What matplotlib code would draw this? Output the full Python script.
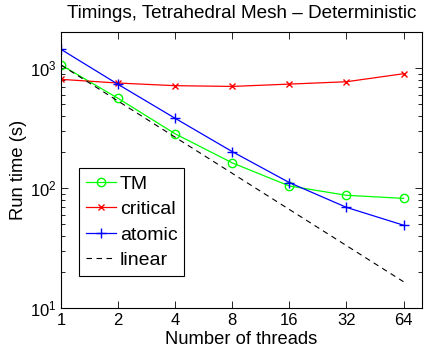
import matplotlib
matplotlib.use("Agg")
import matplotlib.pyplot as plt
import numpy as np
from matplotlib.ticker import FixedLocator, FixedFormatter, LogLocator, NullFormatter

plt.rcParams["font.family"] = ["Liberation Sans", "DejaVu Sans"]

threads = [1, 2, 4, 8, 16, 32, 64]
tm = [1060, 559, 283, 162, 104, 87, 82]
critical = [805, 750, 713, 703, 735, 769, 897]
atomic = [1431, 731, 381, 201, 111, 69, 49]
linear = [tm[0] / t for t in threads]
tick_labels = ["1", "2", "4", "8", "16", "32", "64"]

fig = plt.figure(figsize=(4.24, 3.51), dpi=100)
ax = fig.add_axes([0.144, 0.1225, 0.851, 0.7865])

ax.plot(threads, tm, color=(0, 1, 0), marker="o", mfc="none", ms=6, lw=0.9, label="TM")
ax.plot(threads, critical, color=(1, 0, 0), marker="x", ms=5, lw=0.9, label="critical")
ax.plot(threads, atomic, color=(0, 0, 1), marker="+", ms=7, lw=0.9, label="atomic")
ax.plot(threads, linear, color="k", ls=(0, (5, 4)), lw=0.8, label="linear")

ax.set_xscale("log", base=2)
ax.set_yscale("log")
ax.set_xlim(1, 80)
ax.set_ylim(10, 2000)
ax.xaxis.set_major_locator(FixedLocator(threads))
ax.xaxis.set_major_formatter(FixedFormatter(tick_labels))
ax.xaxis.set_minor_locator(FixedLocator([]))
ax.yaxis.set_major_locator(FixedLocator([10, 100, 1000]))
ax.yaxis.set_minor_locator(LogLocator(base=10, subs=np.arange(2, 10)))
ax.yaxis.set_minor_formatter(NullFormatter())

ax.tick_params(which="both", direction="in", top=True, right=True, labelsize=12)
ax.tick_params(which="major", length=5, width=0.6)
ax.tick_params(which="minor", length=3, width=0.6)
for s in ax.spines.values():
    s.set_linewidth(0.8)

ax.set_xlabel("Number of threads", fontsize=13.2, labelpad=2)
ax.set_ylabel("Run time (s)", fontsize=13.2, labelpad=2)
ax.set_title("Timings, Tetrahedral Mesh \u2013 Deterministic", fontsize=13.6, pad=10)

leg = ax.legend(loc="lower left", bbox_to_anchor=(0.05, 0.117), fontsize=14,
                fancybox=False, edgecolor="k", framealpha=1, handlelength=1.55,
                borderpad=0.35, labelspacing=0.4, handletextpad=0.2,
                borderaxespad=0)
leg.get_frame().set_linewidth(0.8)

fig.savefig("out.png", dpi=100)
